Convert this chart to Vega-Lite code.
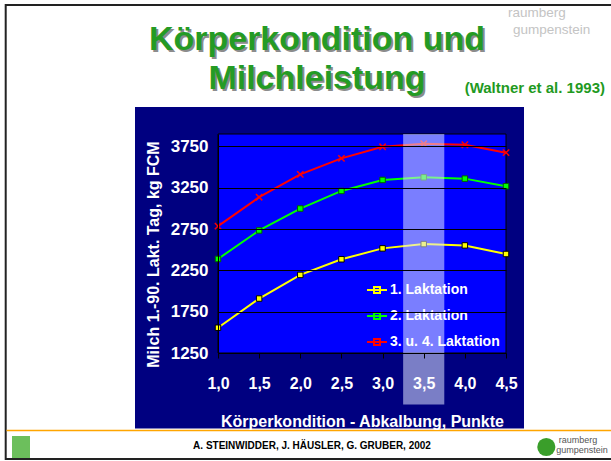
{
  "$schema": "https://vega.github.io/schema/vega-lite/v6.json",
  "width": 288,
  "height": 219,
  "autosize": {"type": "none"},
  "padding": {"left": 218, "top": 134, "right": 105, "bottom": 108},
  "background": "white",
  "config": {
    "view": {"stroke": null},
    "font": "Liberation Sans",
    "axis": {"labelColor": "white", "labelFont": "Liberation Sans", "labelFontWeight": "bold", "titleColor": "white", "titleFont": "Liberation Sans", "titleFontWeight": "bold", "domainColor": "black", "domainWidth": 1, "gridColor": "black", "gridOpacity": 1, "gridWidth": 1, "tickColor": "black"}
  },
  "datasets": {
    "milch": [
      {"k": 1.0, "milch": 1556, "serie": "1. Laktation"},
      {"k": 1.5, "milch": 1909, "serie": "1. Laktation"},
      {"k": 2.0, "milch": 2195, "serie": "1. Laktation"},
      {"k": 2.5, "milch": 2384, "serie": "1. Laktation"},
      {"k": 3.0, "milch": 2516, "serie": "1. Laktation"},
      {"k": 3.5, "milch": 2568, "serie": "1. Laktation"},
      {"k": 4.0, "milch": 2552, "serie": "1. Laktation"},
      {"k": 4.5, "milch": 2448, "serie": "1. Laktation"},
      {"k": 1.0, "milch": 2388, "serie": "2. Laktation"},
      {"k": 1.5, "milch": 2733, "serie": "2. Laktation"},
      {"k": 2.0, "milch": 2998, "serie": "2. Laktation"},
      {"k": 2.5, "milch": 3211, "serie": "2. Laktation"},
      {"k": 3.0, "milch": 3344, "serie": "2. Laktation"},
      {"k": 3.5, "milch": 3376, "serie": "2. Laktation"},
      {"k": 4.0, "milch": 3360, "serie": "2. Laktation"},
      {"k": 4.5, "milch": 3268, "serie": "2. Laktation"},
      {"k": 1.0, "milch": 2785, "serie": "3. u. 4. Laktation"},
      {"k": 1.5, "milch": 3135, "serie": "3. u. 4. Laktation"},
      {"k": 2.0, "milch": 3412, "serie": "3. u. 4. Laktation"},
      {"k": 2.5, "milch": 3605, "serie": "3. u. 4. Laktation"},
      {"k": 3.0, "milch": 3745, "serie": "3. u. 4. Laktation"},
      {"k": 3.5, "milch": 3782, "serie": "3. u. 4. Laktation"},
      {"k": 4.0, "milch": 3770, "serie": "3. u. 4. Laktation"},
      {"k": 4.5, "milch": 3674, "serie": "3. u. 4. Laktation"}
    ],
    "one": [{}]
  },
  "data": {"name": "milch"},
  "layer": [
    {
      "data": {"name": "one"},
      "mark": {"type": "rect", "fillOpacity": 0, "fill": "white", "stroke": "#222222", "strokeWidth": 2},
      "encoding": {
        "x": {"datum": -1.58, "type": "quantitative", "scale": {"domain": [1, 4.5], "nice": false, "zero": false}},
        "x2": {"datum": 5.9},
        "y": {"datum": 5461, "type": "quantitative", "scale": {"domain": [1250, 3900], "nice": false, "zero": false}},
        "y2": {"datum": -32.7}
      }
    },
    {
      "data": {"name": "one"},
      "mark": {"type": "rect", "fill": "#000080"},
      "encoding": {
        "x": {"datum": -0.0087, "type": "quantitative", "scale": {"domain": [1, 4.5], "nice": false, "zero": false}},
        "x2": {"datum": 4.7188},
        "y": {"datum": 4226.7, "type": "quantitative", "scale": {"domain": [1250, 3900], "nice": false, "zero": false}},
        "y2": {"datum": 336.4}
      }
    },
    {
      "data": {"name": "one"},
      "mark": {"type": "rect", "fill": "#0000FF", "stroke": "black", "strokeWidth": 1},
      "encoding": {
        "x": {"datum": 1, "type": "quantitative", "scale": {"domain": [1, 4.5], "nice": false, "zero": false}},
        "x2": {"datum": 4.5},
        "y": {"datum": 1250, "type": "quantitative", "scale": {"domain": [1250, 3900], "nice": false, "zero": false}},
        "y2": {"datum": 3900}
      }
    },
    {
      "mark": {"type": "line", "strokeWidth": 2},
      "encoding": {
        "x": {"field": "k", "type": "quantitative", "scale": {"domain": [1, 4.5], "nice": false, "zero": false},
          "axis": {"zindex": 1, "title": "Körperkondition - Abkalbung, Punkte", "values": [1, 1.5, 2, 2.5, 3, 3.5, 4, 4.5], "format": ".1f", "labelExpr": "replace(datum.label, '.', ',')", "labelFlush": false, "labelOverlap": false, "labelFontSize": 16, "labelPadding": 17, "tickSize": 5, "grid": false, "titleFontSize": 16, "titlePadding": 22}},
        "y": {"field": "milch", "type": "quantitative", "scale": {"domain": [1250, 3900], "nice": false, "zero": false},
          "axis": {"zindex": 1, "title": "Milch 1.-90. Lakt. Tag, kg FCM", "values": [1250, 1750, 2250, 2750, 3250, 3750], "format": "d", "labelFlush": false, "labelOverlap": false, "labelFontSize": 17, "labelPadding": 10, "ticks": false, "grid": true, "titleFontSize": 16, "titlePadding": 9, "titleY": 120}},
        "color": {"field": "serie", "type": "nominal",
          "scale": {"domain": ["1. Laktation", "2. Laktation", "3. u. 4. Laktation"], "range": ["#FFFF00", "#00FF00", "#FF0000"]},
          "legend": {"title": null, "orient": "none", "legendX": 148, "legendY": 145, "padding": 0, "symbolSize": 400,
            "symbolType": "M-1,0H1M-0.3,-0.3H0.3V0.3H-0.3Z", "symbolStrokeWidth": 2,
            "labelFontSize": 14, "labelFontWeight": "bold", "labelColor": "white", "labelFont": "Liberation Sans", "labelOffset": 2, "rowPadding": 8}}
      }
    },
    {
      "transform": [{"filter": "datum.serie === '1. Laktation'"}],
      "mark": {"type": "point", "shape": "square", "size": 30, "filled": true, "fill": "#FFFF00", "stroke": "black", "strokeWidth": 1, "opacity": 1},
      "encoding": {
        "x": {"field": "k", "type": "quantitative", "scale": {"domain": [1, 4.5], "nice": false, "zero": false}},
        "y": {"field": "milch", "type": "quantitative", "scale": {"domain": [1250, 3900], "nice": false, "zero": false}}
      }
    },
    {
      "transform": [{"filter": "datum.serie === '2. Laktation'"}],
      "mark": {"type": "point", "shape": "square", "size": 30, "filled": true, "fill": "#00FF00", "stroke": "#006000", "strokeWidth": 1, "opacity": 1},
      "encoding": {
        "x": {"field": "k", "type": "quantitative", "scale": {"domain": [1, 4.5], "nice": false, "zero": false}},
        "y": {"field": "milch", "type": "quantitative", "scale": {"domain": [1250, 3900], "nice": false, "zero": false}}
      }
    },
    {
      "transform": [{"filter": "datum.serie === '3. u. 4. Laktation'"}],
      "mark": {"type": "point", "shape": "M-1,-1L1,1M-1,1L1,-1", "size": 40, "filled": false, "stroke": "#FF0000", "strokeWidth": 1.5, "opacity": 1},
      "encoding": {
        "x": {"field": "k", "type": "quantitative", "scale": {"domain": [1, 4.5], "nice": false, "zero": false}},
        "y": {"field": "milch", "type": "quantitative", "scale": {"domain": [1250, 3900], "nice": false, "zero": false}}
      }
    },
    {
      "data": {"name": "one"},
      "mark": {"type": "rect", "fill": "#dfe6ff", "opacity": 0.55},
      "encoding": {
        "x": {"datum": 3.25, "type": "quantitative", "scale": {"domain": [1, 4.5], "nice": false, "zero": false}},
        "x2": {"datum": 3.75},
        "y": {"datum": 3900, "type": "quantitative", "scale": {"domain": [1250, 3900], "nice": false, "zero": false}},
        "y2": {"datum": 626.8}
      }
    },
    {
      "data": {"name": "one"},
      "mark": {"type": "rule", "stroke": "#FFA500", "strokeWidth": 1.6},
      "encoding": {
        "x": {"datum": -1.57, "type": "quantitative", "scale": {"domain": [1, 4.5], "nice": false, "zero": false}},
        "x2": {"datum": 5.9},
        "y": {"datum": 312, "type": "quantitative", "scale": {"domain": [1250, 3900], "nice": false, "zero": false}}
      }
    },
    {
      "data": {"name": "one"},
      "mark": {"type": "rect", "fill": "#6cbf5c"},
      "encoding": {
        "x": {"datum": -1.5035, "type": "quantitative", "scale": {"domain": [1, 4.5], "nice": false, "zero": false}},
        "x2": {"datum": -1.2847},
        "y": {"datum": 245.7, "type": "quantitative", "scale": {"domain": [1250, 3900], "nice": false, "zero": false}},
        "y2": {"datum": -20.6}
      }
    },
    {
      "data": {"name": "one"},
      "mark": {"type": "text", "text": ["Körperkondition und", "Milchleistung"], "font": "Liberation Sans", "fontWeight": "bold", "fontSize": 34, "lineHeight": 39, "align": "center", "baseline": "alphabetic", "fill": "#8c8c8c", "dx": 2, "dy": 2},
      "encoding": {
        "x": {"datum": 2.2031, "type": "quantitative", "scale": {"domain": [1, 4.5], "nice": false, "zero": false}},
        "y": {"datum": 4916.5, "type": "quantitative", "scale": {"domain": [1250, 3900], "nice": false, "zero": false}}
      }
    },
    {
      "data": {"name": "one"},
      "mark": {"type": "text", "text": ["Körperkondition und", "Milchleistung"], "font": "Liberation Sans", "fontWeight": "bold", "fontSize": 34, "lineHeight": 39, "align": "center", "baseline": "alphabetic", "fill": "#249b24"},
      "encoding": {
        "x": {"datum": 2.2031, "type": "quantitative", "scale": {"domain": [1, 4.5], "nice": false, "zero": false}},
        "y": {"datum": 4916.5, "type": "quantitative", "scale": {"domain": [1250, 3900], "nice": false, "zero": false}}
      }
    },
    {
      "data": {"name": "one"},
      "mark": {"type": "text", "text": "(Waltner et al. 1993)", "font": "Liberation Sans", "fontWeight": "bold", "fontSize": 15, "align": "center", "baseline": "alphabetic", "fill": "#1f9a1f"},
      "encoding": {
        "x": {"datum": 4.85, "type": "quantitative", "scale": {"domain": [1, 4.5], "nice": false, "zero": false}},
        "y": {"datum": 4396, "type": "quantitative", "scale": {"domain": [1250, 3900], "nice": false, "zero": false}}
      }
    },
    {
      "data": {"name": "one"},
      "mark": {"type": "text", "text": "raumberg", "font": "Liberation Sans", "fontSize": 13.5, "align": "left", "baseline": "alphabetic", "fill": "#c4c4c4"},
      "encoding": {
        "x": {"datum": 4.5244, "type": "quantitative", "scale": {"domain": [1, 4.5], "nice": false, "zero": false}},
        "y": {"datum": 5315.8, "type": "quantitative", "scale": {"domain": [1250, 3900], "nice": false, "zero": false}}
      }
    },
    {
      "data": {"name": "one"},
      "mark": {"type": "text", "text": "gumpenstein", "font": "Liberation Sans", "fontSize": 13.5, "align": "left", "baseline": "alphabetic", "fill": "#c4c4c4"},
      "encoding": {
        "x": {"datum": 4.5851, "type": "quantitative", "scale": {"domain": [1, 4.5], "nice": false, "zero": false}},
        "y": {"datum": 5110, "type": "quantitative", "scale": {"domain": [1250, 3900], "nice": false, "zero": false}}
      }
    },
    {
      "data": {"name": "one"},
      "mark": {"type": "text", "text": "A. STEINWIDDER, J. HÄUSLER, G. GRUBER, 2002", "font": "Liberation Sans", "fontWeight": "bold", "fontSize": 10, "align": "center", "baseline": "middle", "fill": "black"},
      "encoding": {
        "x": {"datum": 2.1424, "type": "quantitative", "scale": {"domain": [1, 4.5], "nice": false, "zero": false}},
        "y": {"datum": 124.6, "type": "quantitative", "scale": {"domain": [1250, 3900], "nice": false, "zero": false}}
      }
    },
    {
      "data": {"name": "one"},
      "mark": {"type": "point", "shape": "circle", "size": 330, "filled": true, "opacity": 1, "strokeWidth": 0, "fill": "#3a9e2a"},
      "encoding": {
        "x": {"datum": 4.99, "type": "quantitative", "scale": {"domain": [1, 4.5], "nice": false, "zero": false}},
        "y": {"datum": 112.5, "type": "quantitative", "scale": {"domain": [1250, 3900], "nice": false, "zero": false}}
      }
    },
    {
      "data": {"name": "one"},
      "mark": {"type": "text", "text": "raumberg", "font": "Liberation Sans", "fontSize": 9, "align": "left", "baseline": "alphabetic", "fill": "#555555"},
      "encoding": {
        "x": {"datum": 5.14, "type": "quantitative", "scale": {"domain": [1, 4.5], "nice": false, "zero": false}},
        "y": {"datum": 161, "type": "quantitative", "scale": {"domain": [1250, 3900], "nice": false, "zero": false}}
      }
    },
    {
      "data": {"name": "one"},
      "mark": {"type": "text", "text": "gumpenstein", "font": "Liberation Sans", "fontSize": 9, "align": "left", "baseline": "alphabetic", "fill": "#555555"},
      "encoding": {
        "x": {"datum": 5.11, "type": "quantitative", "scale": {"domain": [1, 4.5], "nice": false, "zero": false}},
        "y": {"datum": 40, "type": "quantitative", "scale": {"domain": [1250, 3900], "nice": false, "zero": false}}
      }
    }
  ]
}
